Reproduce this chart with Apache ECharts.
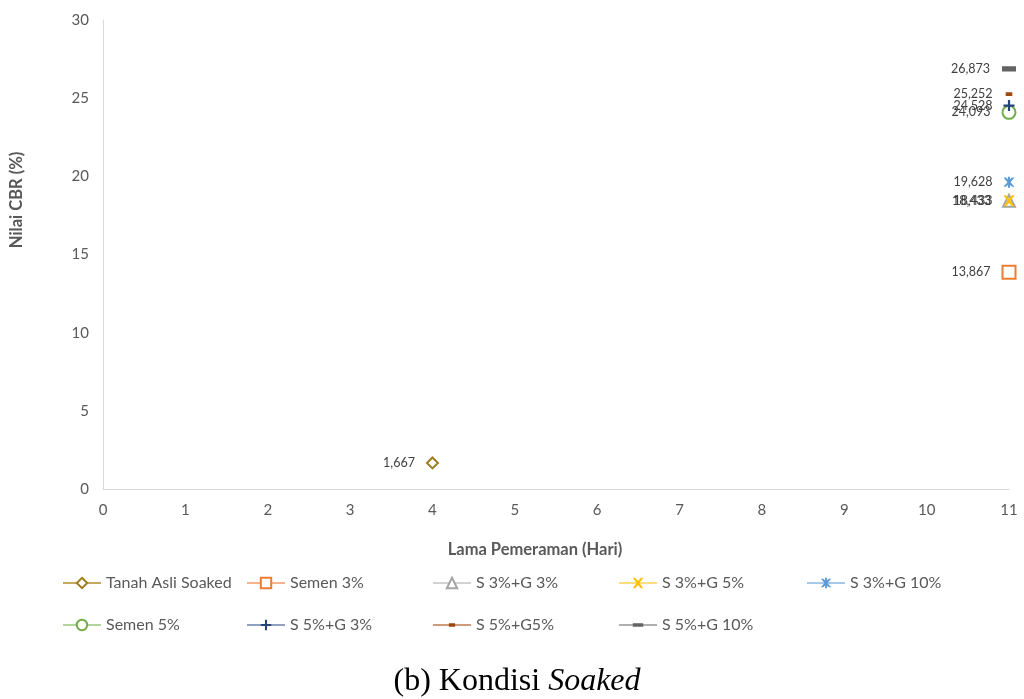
<!DOCTYPE html>
<html><head><meta charset="utf-8">
<script src="https://cdn.jsdelivr.net/npm/echarts@6/dist/echarts.min.js"></script>
<style>html,body{margin:0;padding:0;background:#fff}#c{width:1024px;height:699px}</style>
</head><body><div id="c"></div>
<script>
const seriesNames = ["Tanah Asli Soaked","Semen 3%","S 3%+G 3%","S 3%+G 5%","S 3%+G 10%","Semen 5%","S 5%+G 3%","S 5%+G5%","S 5%+G 10%"];
const days = [4, 11, 11, 11, 11, 11, 11, 11, 11];
const cbrValues = [1.667, 13.867, 18.433, 18.433, 19.628, 24.093, 24.528, 25.252, 26.873];
const xTicks = [0,1,2,3,4,5,6,7,8,9,10,11];
const yTicks = [0,5,10,15,20,25,30];

const markColors = ["#A07E1E","#ED7D31","#A5A5A5","#FFC000","#5B9BD5","#70AD47","#264478","#9E480E","#636363"];
const lineColors = ["#C4AA60","#F5B48A","#D2D2D2","#FFDD80","#A6C8EA","#B2D59B","#8FA1C0","#CE9B7A","#AFAFAF"];
const X = "path://M0,0 L2.2,0 L5,3 L7.8,0 L10,0 L6.4,5 L10,10 L7.8,10 L5,7 L2.2,10 L0,10 L3.6,5 Z";
const AST = "path://M0,0 L2.2,0 L5,3 L7.8,0 L10,0 L6.4,5 L10,10 L7.8,10 L5,7 L2.2,10 L0,10 L3.6,5 Z M4.1,-1 L5.9,-1 L5.9,11 L4.1,11 Z";
const PLUS = "path://M4,0 H6 V4 H10 V6 H6 V10 H4 V6 H0 V4 H4 Z";
// dashes drawn inside a square box so legend icons keep their shape
const DASH_S = "path://M0,0 L0.01,0 L0,0.01 Z M2,3.3 H8 V6.7 H2 Z M10,10 L9.99,10 L10,9.99 Z";
const DASH_L = "path://M0,0 L0.01,0 L0,0.01 Z M0,3.2 H10 V6.8 H0 Z M10,10 L9.99,10 L10,9.99 Z";
const symbols = ["emptyDiamond","emptyRect","emptyTriangle",X,AST,"emptyCircle",PLUS,DASH_S,DASH_L];
const sizes = [11,13,12,11,11,13,11,11,14];
const hollow = [true,true,true,false,false,true,false,false,false];

const series = seriesNames.map((n,i)=>({
  name:n, type:'line',
  data:[[days[i], cbrValues[i]]],
  symbol:symbols[i], symbolSize:sizes[i],
  itemStyle: hollow[i] ? {color:markColors[i], borderColor:markColors[i], borderWidth:2.5} : {color:markColors[i], borderWidth:0},
  lineStyle:{color:lineColors[i], width:1.5},
  label:{show:true, position:'left', distance:(i===8?12:11), color:'#404040', fontSize:12.5, fontFamily:'Lato',
    formatter:p=>p.value[1].toFixed(3).replace('.',',')},
  z: 10+i
}));

const colX = [62,246,432,618,806];
const legends = seriesNames.map((n,i)=>({
  data:[n], left: colX[i<5?i:i-5], top: i<5?575:617, padding:0,
  itemWidth:38, itemHeight:13, itemGap:0,
  textStyle:{color:'#595959', fontSize:16, fontFamily:'Lato'},
  selectedMode:false
}));

const chart = echarts.init(document.getElementById('c'));
chart.setOption({
  animation:false,
  grid:{left:103, right:15, top:20, bottom:210, containLabel:false},
  xAxis:{type:'value', min:0, max:11, interval:1,
    axisLine:{show:true, lineStyle:{color:'#D9D9D9'}}, axisTick:{show:false}, splitLine:{show:false},
    axisLabel:{color:'#595959', fontSize:15, fontFamily:'Lato', margin:14,
      formatter:v=>xTicks.includes(v)?String(v):''}},
  yAxis:{type:'value', min:0, max:30, interval:5,
    axisLine:{show:true, lineStyle:{color:'#D9D9D9'}}, axisTick:{show:false}, splitLine:{show:false},
    axisLabel:{color:'#595959', fontSize:15, fontFamily:'Lato', margin:14,
      formatter:v=>yTicks.includes(v)?String(v):''}},
  legend: legends,
  series: series,
  graphic:[
    {type:'text', x:17, y:200, rotation:Math.PI/2,
      style:{text:'Nilai CBR (%)', fill:'#595959', font:'bold 16.5px Lato', align:'center', verticalAlign:'middle'}},
    {type:'text', x:535, y:550,
      style:{text:'Lama Pemeraman (Hari)', fill:'#595959', font:'bold 16.5px Lato', align:'center', verticalAlign:'middle'}},
    {type:'text', x:517, y:682,
      style:{text:'{n|(b) Kondisi }{i|Soaked}', align:'center', verticalAlign:'middle',
        rich:{n:{fontFamily:'Liberation Serif', fontSize:32, fill:'#000', color:'#000'},
              i:{fontFamily:'Liberation Serif', fontSize:32, fontStyle:'italic', fill:'#000', color:'#000'}}}}
  ]
});
</script></body></html>
